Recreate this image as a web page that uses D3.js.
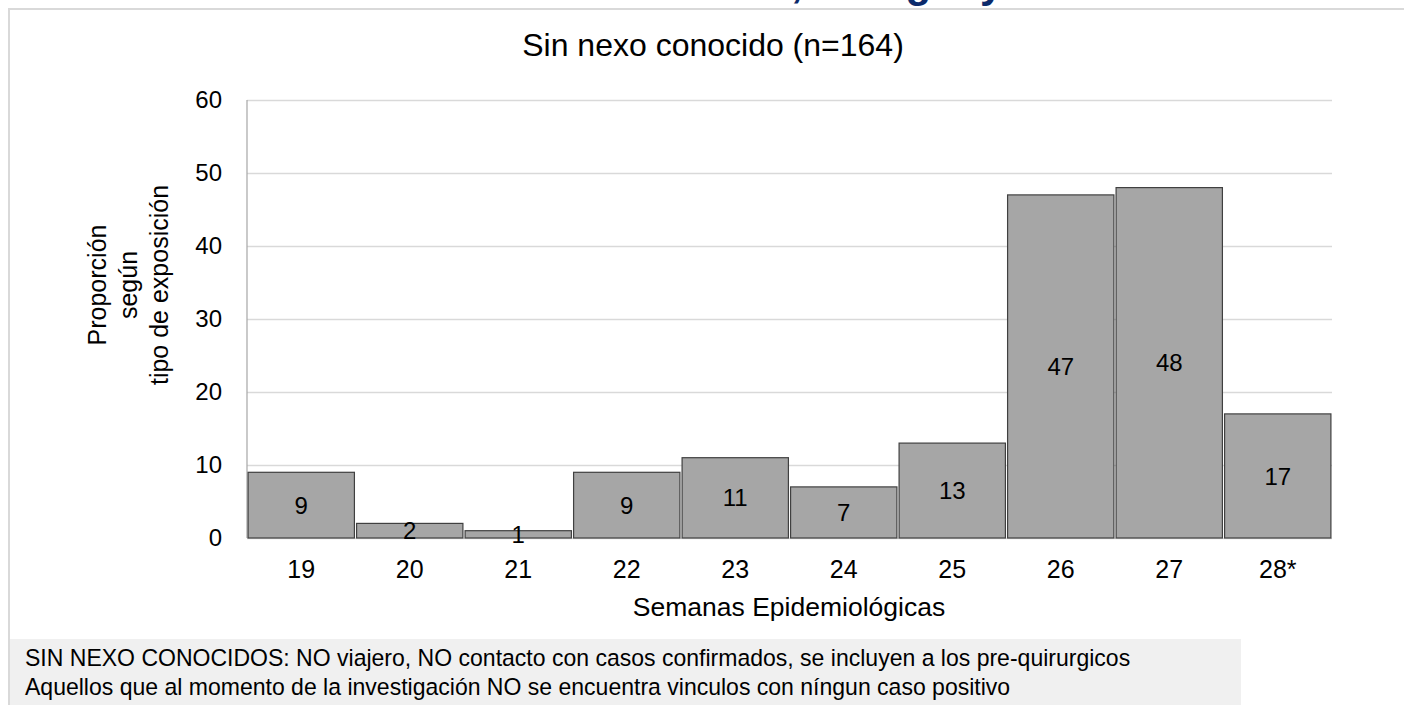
<!DOCTYPE html>
<html>
<head>
<meta charset="utf-8">
<script src="https://cdn.jsdelivr.net/npm/d3@7"></script>
<style>
  html, body { margin: 0; padding: 0; background: #ffffff; }
  svg { display: block; font-family: "Liberation Sans", Arial, sans-serif; }
</style>
</head>
<body>
<svg id="chart" width="1404" height="705"></svg>
<script>
// ---- data ----
const weeks = ["19", "20", "21", "22", "23", "24", "25", "26", "27", "28*"];
const cases = [9, 2, 1, 9, 11, 7, 13, 47, 48, 17];
const yTicks = [0, 10, 20, 30, 40, 50, 60];
const chartTitle = "Sin nexo conocido (n=164)";
const topTitle = ", Paraguay";
const xAxisTitle = "Semanas Epidemiológicas";
const yAxisTitle = ["Proporción", "según", "tipo de exposición"];
const footnoteLines = [
  "SIN NEXO CONOCIDOS: NO viajero, NO contacto con casos confirmados, se incluyen a los pre-quirurgicos",
  "Aquellos que al momento de la investigación NO se encuentra vinculos con níngun caso positivo"
];

const svg = d3.select("#chart");

// partially visible slide title (cut off at the top)
svg.append("text")
  .attr("x", 791).attr("y", -3)
  .attr("font-size", 42).attr("font-weight", "bold")
  .attr("fill", "#0b2a6b")
  .text(topTitle);

// outer frame
svg.append("path")
  .attr("d", "M9,705 L9,9 L1404,9")
  .attr("fill", "none").attr("stroke", "#d9d9d9").attr("stroke-width", 2);

// footnote box
svg.append("rect")
  .attr("x", 10).attr("y", 639).attr("width", 1231).attr("height", 66)
  .attr("fill", "#f0f0f0");

const fn = svg.selectAll("text.fn").data(footnoteLines).join("text")
  .attr("class", "fn")
  .attr("x", 25)
  .attr("y", (d, i) => 666 + i * 29)
  .attr("font-size", 20)
  .attr("fill", "#000")
  .text(d => d);
const fnLen = fn.node().getComputedTextLength();
fn.attr("font-size", 20 * 1106 / fnLen);

// scales
const x = d3.scaleBand().domain(weeks).range([247, 1332]).paddingInner(0.02).paddingOuter(0.01);
const y = d3.scaleLinear().domain([0, 60]).range([538, 100]);

// gridlines + y tick labels
const yAxis = svg.append("g")
  .attr("transform", "translate(247,0)")
  .call(d3.axisLeft(y).tickValues(yTicks).tickSize(-1085).tickPadding(25).tickFormat(d3.format("d")));
yAxis.select(".domain").remove();
yAxis.selectAll(".tick line").attr("stroke", "#d9d9d9").attr("stroke-width", 1.3);
yAxis.selectAll(".tick text")
  .attr("font-size", 24).attr("fill", "#000")
  .attr("font-family", "Liberation Sans, Arial, sans-serif")
  .attr("dy", "0.3em");

// left axis line
svg.append("line")
  .attr("x1", 247).attr("x2", 247).attr("y1", y(60)).attr("y2", y(0))
  .attr("stroke", "#a6a6a6").attr("stroke-width", 1.2);

// bars
svg.selectAll("rect.bar").data(cases).join("rect")
  .attr("class", "bar")
  .attr("x", (d, i) => x(weeks[i]))
  .attr("y", d => y(d))
  .attr("width", x.bandwidth())
  .attr("height", d => y(0) - y(d))
  .attr("fill", "#a6a6a6")
  .attr("stroke", "#404040")
  .attr("stroke-width", 1.2);

// data labels
svg.selectAll("text.lbl").data(cases).join("text")
  .attr("class", "lbl")
  .attr("x", (d, i) => x(weeks[i]) + x.bandwidth() / 2)
  .attr("y", d => (y(d) + y(0)) / 2)
  .attr("dy", "0.36em")
  .attr("text-anchor", "middle")
  .attr("font-size", 24)
  .attr("fill", "#000")
  .text(d => d);

// x axis labels
const xAxis = svg.append("g")
  .attr("transform", "translate(0,538)")
  .call(d3.axisBottom(x).tickSize(0).tickPadding(22));
xAxis.select(".domain").remove();
xAxis.selectAll(".tick text")
  .attr("font-size", 25).attr("fill", "#000")
  .attr("font-family", "Liberation Sans, Arial, sans-serif");

// x axis title
svg.append("text")
  .attr("x", 789).attr("y", 616)
  .attr("text-anchor", "middle")
  .attr("font-size", 26.5)
  .text(xAxisTitle);

// y axis title (three lines, rotated)
const yt = svg.append("text")
  .attr("transform", "translate(0,285) rotate(-90)")
  .attr("text-anchor", "middle")
  .attr("font-size", 25);
yAxisTitle.forEach((line, i) => {
  yt.append("tspan").attr("x", 0).attr("y", 106 + i * 31).text(line);
});

// chart title
svg.append("text")
  .attr("x", 713).attr("y", 56)
  .attr("text-anchor", "middle")
  .attr("font-size", 32)
  .text(chartTitle);
</script>
</body>
</html>
